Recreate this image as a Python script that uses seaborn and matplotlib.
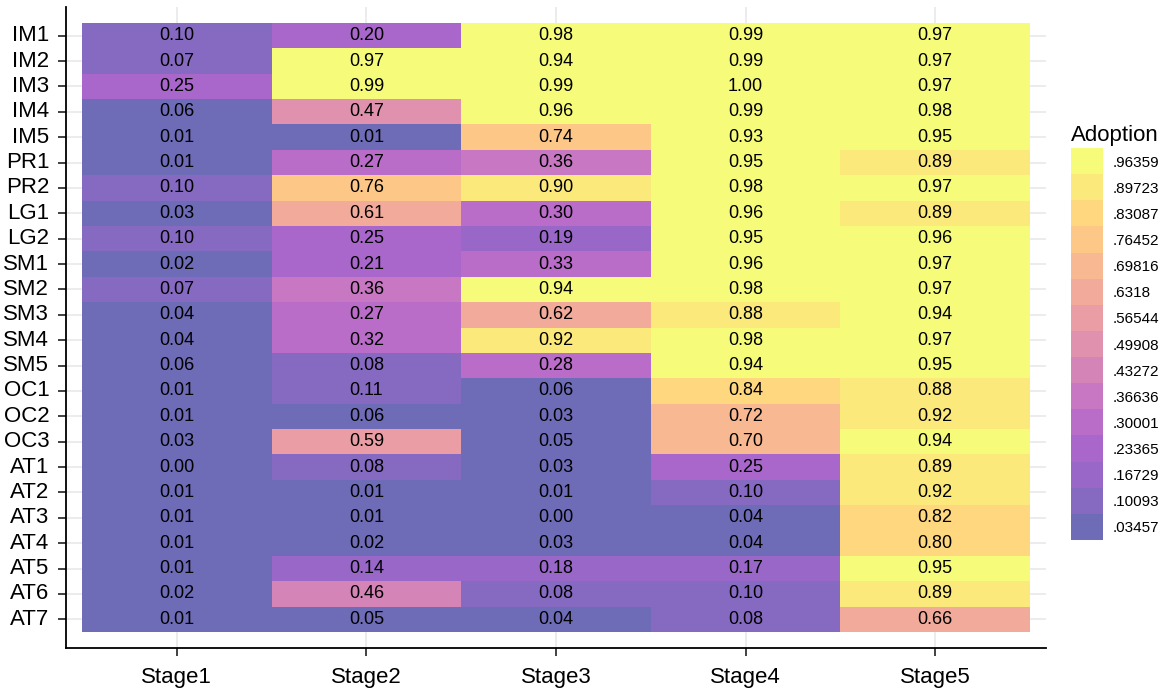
import matplotlib
matplotlib.use("Agg")
import matplotlib.pyplot as plt
import matplotlib.colors as mcolors
from matplotlib import font_manager
import numpy as np
import pandas as pd
import seaborn as sns

# Data
items = ['IM1', 'IM2', 'IM3', 'IM4', 'IM5', 'PR1', 'PR2', 'LG1', 'LG2',
         'SM1', 'SM2', 'SM3', 'SM4', 'SM5', 'OC1', 'OC2', 'OC3',
         'AT1', 'AT2', 'AT3', 'AT4', 'AT5', 'AT6', 'AT7']
stages = ['Stage1', 'Stage2', 'Stage3', 'Stage4', 'Stage5']

stage1 = [0.10, 0.07, 0.25, 0.06, 0.01, 0.01, 0.10, 0.03, 0.10, 0.02, 0.07, 0.04,
          0.04, 0.06, 0.01, 0.01, 0.03, 0.00, 0.01, 0.01, 0.01, 0.01, 0.02, 0.01]
stage2 = [0.203, 0.97, 0.99, 0.47, 0.01, 0.27, 0.76, 0.61, 0.25, 0.21, 0.36, 0.27,
          0.32, 0.08, 0.11, 0.06, 0.59, 0.08, 0.01, 0.01, 0.02, 0.14, 0.46, 0.05]
stage3 = [0.98, 0.94, 0.99, 0.96, 0.74, 0.36, 0.90, 0.30, 0.19, 0.33, 0.94, 0.62,
          0.92, 0.28, 0.06, 0.03, 0.05, 0.03, 0.01, 0.00, 0.03, 0.18, 0.08, 0.04]
stage4 = [0.99, 0.99, 0.997, 0.99, 0.932, 0.95, 0.98, 0.96, 0.95, 0.96, 0.98, 0.88,
          0.98, 0.94, 0.84, 0.72, 0.70, 0.25, 0.10, 0.04, 0.04, 0.17, 0.10, 0.08]
stage5 = [0.97, 0.97, 0.97, 0.98, 0.95, 0.89, 0.97, 0.89, 0.96, 0.97, 0.97, 0.94,
          0.97, 0.95, 0.88, 0.92, 0.94, 0.89, 0.92, 0.82, 0.80, 0.95, 0.89, 0.66]

# legend bins (centres as printed)
legend_centres = [0.03457, 0.10093, 0.16729, 0.23365, 0.30001, 0.36636, 0.43272,
                  0.49908, 0.56544, 0.6318, 0.69816, 0.76452, 0.83087, 0.89723, 0.96359]
legend_labels = ['.03457', '.10093', '.16729', '.23365', '.30001', '.36636', '.43272',
                 '.49908', '.56544', '.6318', '.69816', '.76452', '.83087', '.89723', '.96359']

df = pd.DataFrame({'Stage1': stage1, 'Stage2': stage2, 'Stage3': stage3,
                   'Stage4': stage4, 'Stage5': stage5}, index=items)

# binned plasma, faded (alpha 0.6 on white)
c = np.array(legend_centres)
half = (c[1] - c[0]) / 2
edges = np.concatenate([[c[0] - half], (c[:-1] + c[1:]) / 2, [c[-1] + half]])
base = plt.get_cmap('plasma')(np.linspace(0, 1, len(c)))[:, :3]
faded = 0.6 * base + 0.4
cmap = mcolors.ListedColormap(faded)
norm = mcolors.BoundaryNorm(edges, cmap.N)

# the reference text is tall and narrow; use the narrow face if there is one
names = {f.name for f in font_manager.fontManager.ttflist}
if 'Liberation Sans Narrow' in names:
    plt.rcParams['font.family'] = ['Liberation Sans Narrow', 'DejaVu Sans']
    tick_size, annot_size, leg_size, title_size = 17, 14, 11, 17.5
else:
    plt.rcParams['font.family'] = ['Liberation Sans', 'DejaVu Sans']
    tick_size, annot_size, leg_size, title_size = 16, 13, 11, 16

fig = plt.figure(figsize=(11.62, 6.96), dpi=100)
ax = fig.add_axes([66 / 1162, 1 - 648 / 696, 980 / 1162, 641 / 696])
cax = fig.add_axes([1071 / 1162, 1 - 540 / 696, 32 / 1162, 392 / 696])

sns.heatmap(df, ax=ax, cbar_ax=cax, cmap=cmap, norm=norm,
            vmin=edges[0], vmax=edges[-1],
            annot=True, fmt='.2f', annot_kws={'color': 'black', 'fontsize': annot_size},
            cbar_kws={'ticks': legend_centres})

ax.set_xlim(-0.0844, 5.0844)
ax.set_ylim(24.63, -0.63)
ax.set_xlabel('')
ax.set_ylabel('')
ax.set_axisbelow(True)
ax.grid(True, color='#ebebeb', linewidth=1.3)
for side in ['left', 'bottom']:
    ax.spines[side].set_visible(True)
    ax.spines[side].set_color('black')
    ax.spines[side].set_linewidth(1.3)
ax.spines['top'].set_visible(False)
ax.spines['right'].set_visible(False)
ax.tick_params(axis='x', length=6, width=1.3, color='#333333', pad=8, labelsize=tick_size)
ax.tick_params(axis='y', length=6, width=1.3, color='#333333', pad=6, labelsize=tick_size,
               rotation=0)
ax.set_xticklabels(stages)

cb = ax.collections[0].colorbar
cb.set_ticks(legend_centres)
cb.set_ticklabels(legend_labels)
cb.outline.set_visible(False)
cax.minorticks_off()
cax.tick_params(which='both', length=0, pad=7, labelsize=leg_size)
cax.set_title('Adoption', loc='left', fontsize=title_size, pad=5)

fig.savefig('out.png', dpi=100)
